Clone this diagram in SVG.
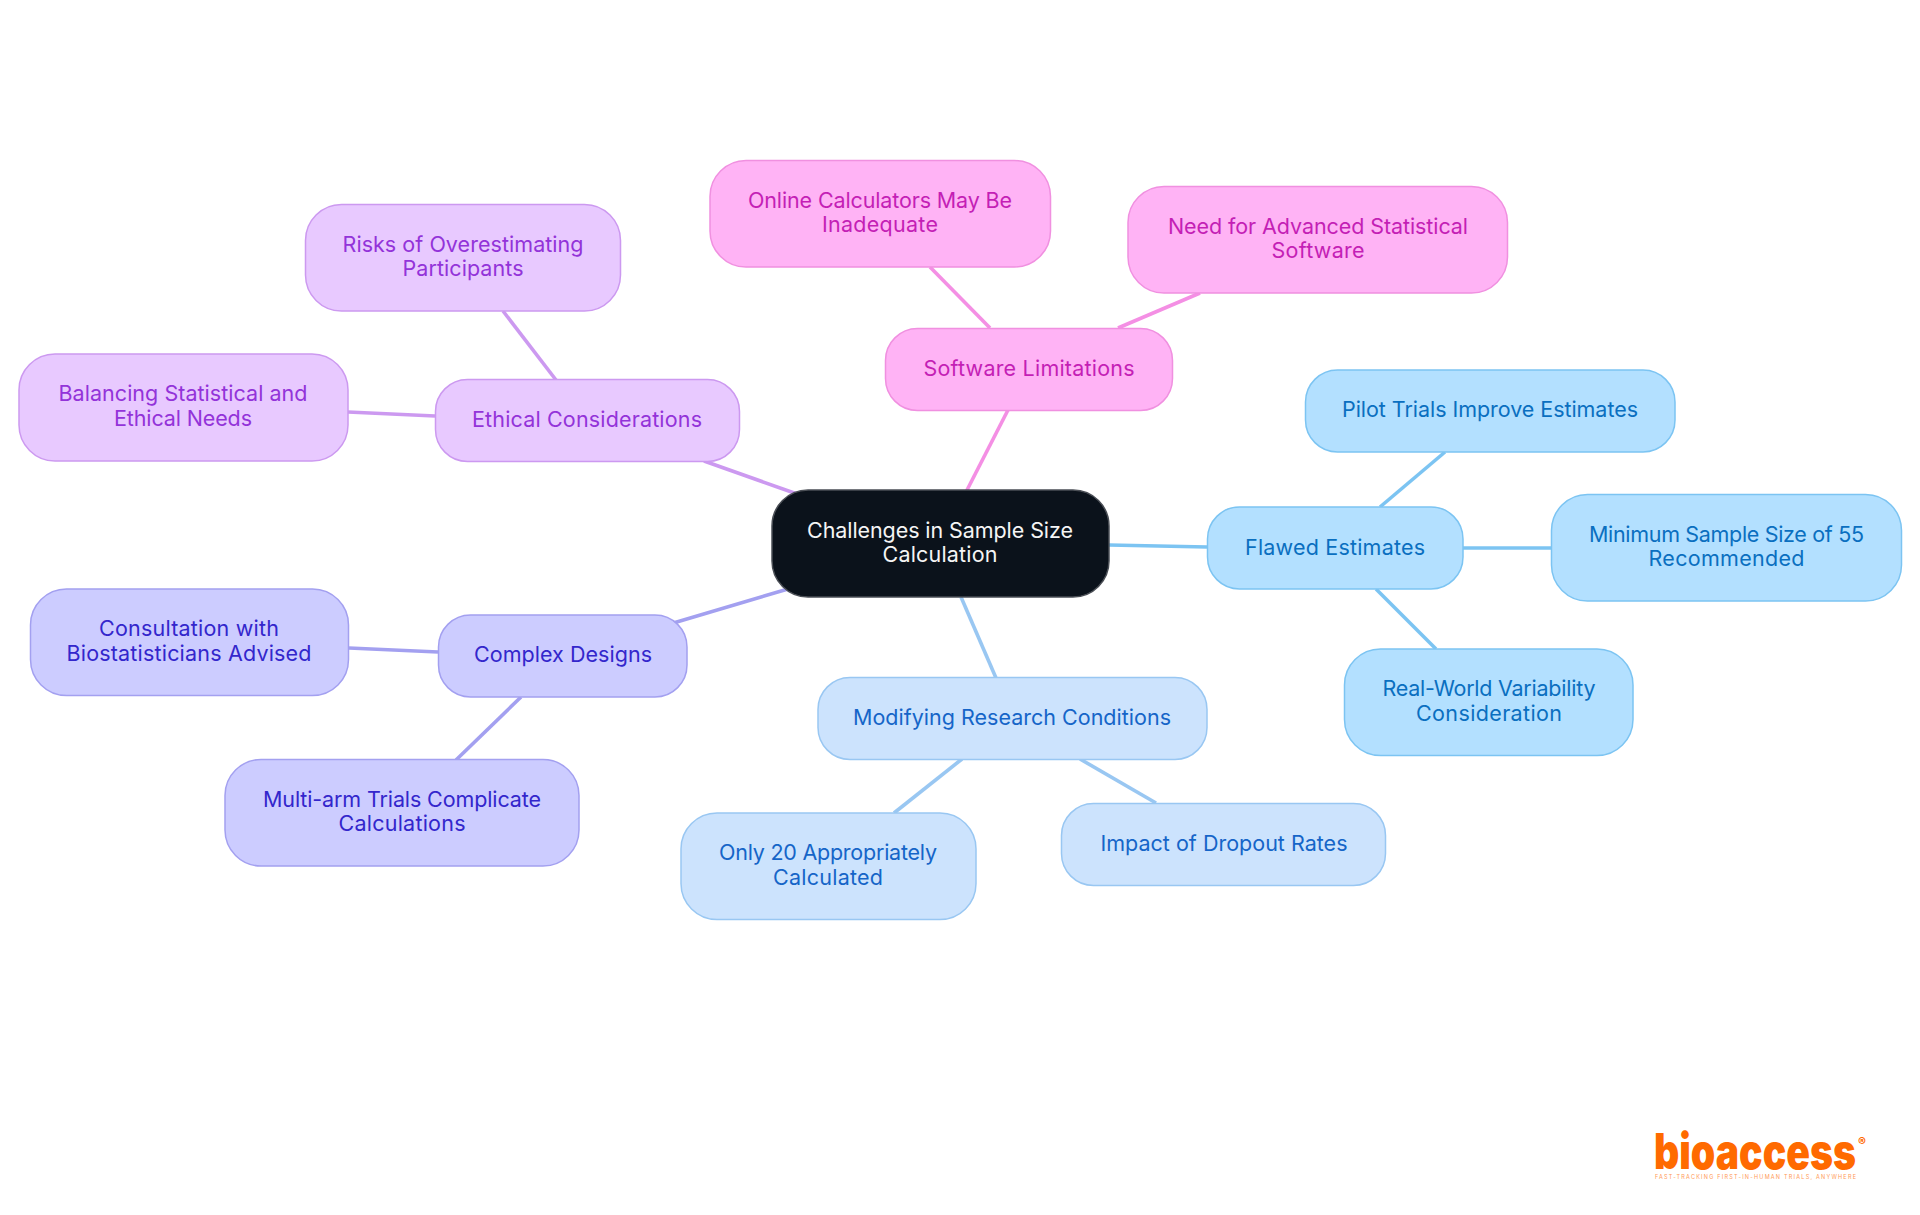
<svg xmlns="http://www.w3.org/2000/svg" width="1920" height="1215" viewBox="0 0 1920 1215">
<style>
text{font-family:"Inter","Noto Sans",sans-serif;font-size:21.5px;text-anchor:middle}
.n rect{stroke-width:1.5}
.c line{stroke-width:3.6;fill:none}
.root rect{fill:#0b121b;stroke:#4a4e55}.root text{fill:#f5f5f5}
.pu rect{fill:#e8c9ff;stroke:#cc99f0}.pu text{fill:#9333d9}
.pk rect{fill:#ffb3f5;stroke:#f090e0}.pk text{fill:#c41fb5}
.bl rect{fill:#b3e0ff;stroke:#7cc4f2}.bl text{fill:#0a6fc0}
.lb rect{fill:#cce3fd;stroke:#99c7f2}.lb text{fill:#1565c8}
.in rect{fill:#ccccff;stroke:#a3a0f0}.in text{fill:#3326cc}
</style>
<g id="connectors" class="c">
<line x1="966" y1="492" x2="1008" y2="410" stroke="#f48fe4"/>
<line x1="990" y1="328" x2="930" y2="267" stroke="#f48fe4"/>
<line x1="1118" y1="328" x2="1200" y2="293" stroke="#f48fe4"/>
<line x1="800" y1="495" x2="704" y2="461" stroke="#cc99f0"/>
<line x1="556" y1="380" x2="503" y2="311" stroke="#cc99f0"/>
<line x1="435" y1="416" x2="348" y2="412" stroke="#cc99f0"/>
<line x1="1109" y1="545" x2="1207" y2="547" stroke="#7cc4f2"/>
<line x1="1380" y1="507" x2="1445" y2="452" stroke="#7cc4f2"/>
<line x1="1463" y1="548" x2="1551" y2="548" stroke="#7cc4f2"/>
<line x1="1376" y1="589" x2="1436" y2="649" stroke="#7cc4f2"/>
<line x1="961" y1="597" x2="996" y2="678" stroke="#99c7f2"/>
<line x1="962" y1="759" x2="894" y2="813" stroke="#99c7f2"/>
<line x1="1080" y1="759" x2="1156" y2="803" stroke="#99c7f2"/>
<line x1="788" y1="589" x2="670" y2="624" stroke="#a3a0f0"/>
<line x1="438" y1="652" x2="349" y2="648" stroke="#a3a0f0"/>
<line x1="521" y1="697" x2="456" y2="760" stroke="#a3a0f0"/>
</g>
<g id="root" class="n root"><rect x="772" y="490" width="337" height="107" rx="36"/><text x="940" y="538" textLength="266">Challenges in Sample Size</text><text x="940" y="562" textLength="115">Calculation</text></g>
<g id="software" class="n pk"><rect x="885.500" y="328.500" width="287" height="82" rx="32"/><text x="1029" y="376" textLength="211">Software Limitations</text></g>
<g id="online" class="n pk"><rect x="710" y="160.500" width="340.500" height="106.500" rx="36"/><text x="880" y="208" textLength="264">Online Calculators May Be</text><text x="880" y="232" textLength="116">Inadequate</text></g>
<g id="need" class="n pk"><rect x="1128" y="186.500" width="379.500" height="106.500" rx="36"/><text x="1318" y="234" textLength="300">Need for Advanced Statistical</text><text x="1318" y="258" textLength="93">Software</text></g>
<g id="ethical" class="n pu"><rect x="435.500" y="379.500" width="304" height="82" rx="32"/><text x="587" y="427" textLength="230">Ethical Considerations</text></g>
<g id="risks" class="n pu"><rect x="305.500" y="204.500" width="315" height="106.500" rx="36"/><text x="463" y="252" textLength="241">Risks of Overestimating</text><text x="463" y="276" textLength="121">Participants</text></g>
<g id="balancing" class="n pu"><rect x="19" y="354" width="329" height="107" rx="36"/><text x="183" y="401" textLength="249">Balancing Statistical and</text><text x="183" y="426" textLength="138">Ethical Needs</text></g>
<g id="flawed" class="n bl"><rect x="1207.500" y="507" width="255.500" height="82" rx="32"/><text x="1335" y="555" textLength="180">Flawed Estimates</text></g>
<g id="pilot" class="n bl"><rect x="1305.500" y="370" width="369.500" height="82" rx="32"/><text x="1490" y="417" textLength="296">Pilot Trials Improve Estimates</text></g>
<g id="minimum" class="n bl"><rect x="1551.500" y="494.500" width="350" height="106.500" rx="36"/><text x="1726.500" y="542" textLength="275">Minimum Sample Size of 55</text><text x="1726.500" y="566" textLength="156">Recommended</text></g>
<g id="real" class="n bl"><rect x="1344.500" y="649" width="288.500" height="106.500" rx="36"/><text x="1489" y="696" textLength="213">Real-World Variability</text><text x="1489" y="721" textLength="146">Consideration</text></g>
<g id="modifying" class="n lb"><rect x="818" y="677.500" width="389" height="82" rx="32"/><text x="1012" y="725" textLength="318">Modifying Research Conditions</text></g>
<g id="only20" class="n lb"><rect x="681" y="813" width="295" height="106.500" rx="36"/><text x="828" y="860" textLength="218">Only 20 Appropriately</text><text x="828" y="885" textLength="110">Calculated</text></g>
<g id="impact" class="n lb"><rect x="1061.500" y="803.500" width="324" height="82" rx="32"/><text x="1224" y="851" textLength="247">Impact of Dropout Rates</text></g>
<g id="complex" class="n in"><rect x="438.500" y="615" width="248.500" height="82" rx="32"/><text x="563" y="662" textLength="178">Complex Designs</text></g>
<g id="consult" class="n in"><rect x="30.500" y="589" width="318" height="106.500" rx="36"/><text x="189" y="636" textLength="180">Consultation with</text><text x="189" y="661" textLength="245">Biostatisticians Advised</text></g>
<g id="multi" class="n in"><rect x="225" y="759.500" width="354" height="106.500" rx="36"/><text x="402" y="807" textLength="278">Multi-arm Trials Complicate</text><text x="402" y="831" textLength="127">Calculations</text></g>
<g id="logo">
<text x="1654" y="1169" textLength="202" lengthAdjust="spacingAndGlyphs" style="font-weight:900;font-size:49px;text-anchor:start" fill="#ff6a00">bioaccess</text>
<text x="1862" y="1146" style="font-weight:800;font-size:12px" fill="#ff6a00">®</text>
<text x="1655" y="1179" textLength="201" style="font-size:5.500px;text-anchor:start" fill="#ff9a55">FAST-TRACKING FIRST-IN-HUMAN TRIALS, ANYWHERE</text>
</g>
</svg>
